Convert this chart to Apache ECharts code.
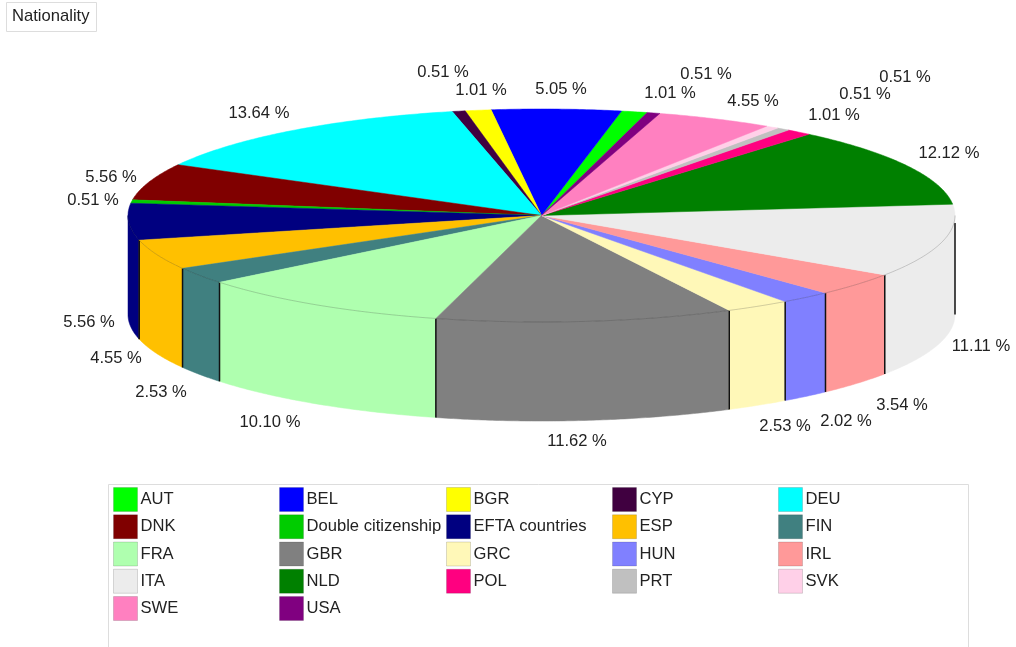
<!DOCTYPE html>
<html>
<head>
<meta charset="utf-8">
<title>Nationality</title>
<style>
    html, body { margin: 0; padding: 0; background: #fff; overflow: hidden; }
    #main { width: 1016px; height: 647px; }
</style>
<script src="https://cdn.jsdelivr.net/npm/echarts@6/dist/echarts.min.js"></script>
</head>
<body>
<div id="main"></div>
<script>
var categories = ['AUT', 'BEL', 'BGR', 'CYP', 'DEU', 'DNK', 'Double citizenship', 'EFTA countries', 'ESP', 'FIN', 'FRA',
    'GBR', 'GRC', 'HUN', 'IRL', 'ITA', 'NLD', 'POL', 'PRT', 'SVK', 'SWE', 'USA'];
var shares = [1.01, 5.05, 1.01, 0.51, 13.64, 5.56, 0.51, 5.56, 4.55, 2.53, 10.10,
    11.62, 2.53, 2.02, 3.54, 11.11, 12.12, 1.01, 0.51, 0.51, 4.55, 0.51];
var colors = ['#00ff00', '#0000ff', '#ffff00', '#400040', '#00ffff', '#800000', '#00cc00', '#000080', '#ffc000', '#408080', '#afffaf',
    '#808080', '#fff8b8', '#8080ff', '#ff9999', '#ececec', '#008000', '#ff0080', '#c0c0c0', '#ffd0e8', '#ff80c0', '#800080'];

// label centres in page pixels, same order as categories
var labelPos = [[670, 93], [561, 89], [481, 90], [443, 72], [259, 113], [111, 177], [93, 200], [89, 322], [116, 358], [161, 392], [270, 422],
    [577, 441], [785, 426], [846, 421], [902, 405], [981, 346], [949, 153], [834, 115], [865, 94], [905, 77], [753, 101], [706, 74]];

var START_ANGLE = 14.8;   // clockwise from top, slices run counter clockwise
var DEPTH = 0.93;         // wall height in y axis units
var FONT = '"Liberation Sans", Arial, sans-serif';
var FONT_SIZE = 16.6;

var total = 0;
for (var n = 0; n < shares.length; n++) {
    total += shares[n];
}

function rimPoint(api, deg, drop) {
    var r = deg * Math.PI / 180;
    return api.coord([Math.sin(r), Math.cos(r) - (drop || 0)]);
}

function arcPoints(api, from, to, drop) {
    var pts = [];
    var steps = Math.max(2, Math.ceil((to - from) / 0.5));
    for (var k = 0; k <= steps; k++) {
        pts.push(rimPoint(api, from + (to - from) * k / steps, drop));
    }
    return pts;
}

function renderSlice(params, api) {
    var idx = api.value(0);
    var before = 0;
    for (var i = 0; i < idx; i++) {
        before += shares[i];
    }
    var sweep = shares[idx] / total * 360;
    var to = START_ANGLE - before / total * 360;
    var from = to - sweep;
    if (from < 0) {
        from += 360;
        to += 360;
    }
    var color = colors[idx];
    var children = [];

    // top face
    var top = arcPoints(api, from, to, 0);
    top.push(api.coord([0, 0]));
    children.push({
        type: 'polygon',
        z2: 20,
        shape: { points: top },
        style: { fill: color, stroke: color, lineWidth: 0.5 }
    });

    // wall, only the front half of the pie shows it
    var lo = Math.max(from, 90);
    var hi = Math.min(to, 270);
    if (hi > lo) {
        var rim = arcPoints(api, lo, hi, 0);
        var foot = arcPoints(api, lo, hi, DEPTH).reverse();
        children.push({
            type: 'polygon',
            z2: 5,
            shape: { points: rim.concat(foot) },
            style: { fill: color, stroke: color, lineWidth: 0.5 }
        });
        children.push({
            type: 'polyline',
            z2: 25,
            shape: { points: rim },
            style: { fill: null, stroke: 'rgba(0,0,0,0.18)', lineWidth: 1 }
        });
        // the line on the silhouette edge starts a little below the rim
        var a = rimPoint(api, lo, lo === 90 ? 0.07 : 0);
        var b = rimPoint(api, lo, DEPTH);
        children.push({
            type: 'line',
            z2: 10,
            shape: { x1: a[0], y1: a[1], x2: b[0], y2: b[1] },
            style: { stroke: '#111', lineWidth: 1.5 }
        });
    }

    children.push({
        type: 'text',
        z2: 30,
        x: labelPos[idx][0],
        y: labelPos[idx][1],
        style: {
            text: shares[idx].toFixed(2) + ' %',
            fill: '#222',
            font: FONT_SIZE + 'px ' + FONT,
            align: 'center',
            verticalAlign: 'middle'
        }
    });
    return { type: 'group', children: children };
}

var seriesList = [];
for (var s = 0; s < categories.length; s++) {
    seriesList.push({
        type: 'custom',
        name: categories[s],
        coordinateSystem: 'cartesian2d',
        clip: false,
        silent: true,
        itemStyle: { color: colors[s] },
        renderItem: renderSlice,
        data: [[s, shares[s]]]
    });
}

// the reference legend is a 5 column table, filled row by row
var legendLeft = [113, 279, 446, 612, 778];
var legends = [];
for (var c = 0; c < legendLeft.length; c++) {
    var names = [];
    for (var j = c; j < categories.length; j += legendLeft.length) {
        names.push(categories[j]);
    }
    legends.push({
        left: legendLeft[c],
        top: 487,
        orient: 'vertical',
        padding: 0,
        itemGap: 2.25,
        itemWidth: 24,
        itemHeight: 24,
        icon: 'rect',
        selectedMode: false,
        itemStyle: { borderColor: 'rgba(0,0,0,0.14)', borderWidth: 1 },
        textStyle: { color: '#222', fontSize: FONT_SIZE, fontFamily: FONT, padding: [0, 0, 2, -2] },
        data: names
    });
}

var myChart = echarts.init(document.getElementById('main'));
myChart.setOption({
    animation: false,
    backgroundColor: '#fff',
    title: {
        text: 'Nationality',
        left: 6,
        top: 2,
        padding: [6, 7, 7, 6],
        borderColor: '#ddd',
        borderWidth: 1,
        textStyle: { color: '#222', fontSize: FONT_SIZE, fontWeight: 'normal', fontFamily: FONT }
    },
    grid: { left: 128, width: 827, top: 109, height: 213 },
    xAxis: { type: 'value', min: -1, max: 1, show: false },
    yAxis: { type: 'value', min: -1, max: 1, show: false },
    legend: legends,
    graphic: [{
        type: 'rect',
        silent: true,
        z: -1,
        shape: { x: 108.5, y: 484.5, width: 860, height: 180 },
        style: { fill: '#fff', stroke: '#ddd', lineWidth: 1 }
    }],
    series: seriesList
});
</script>
</body>
</html>
